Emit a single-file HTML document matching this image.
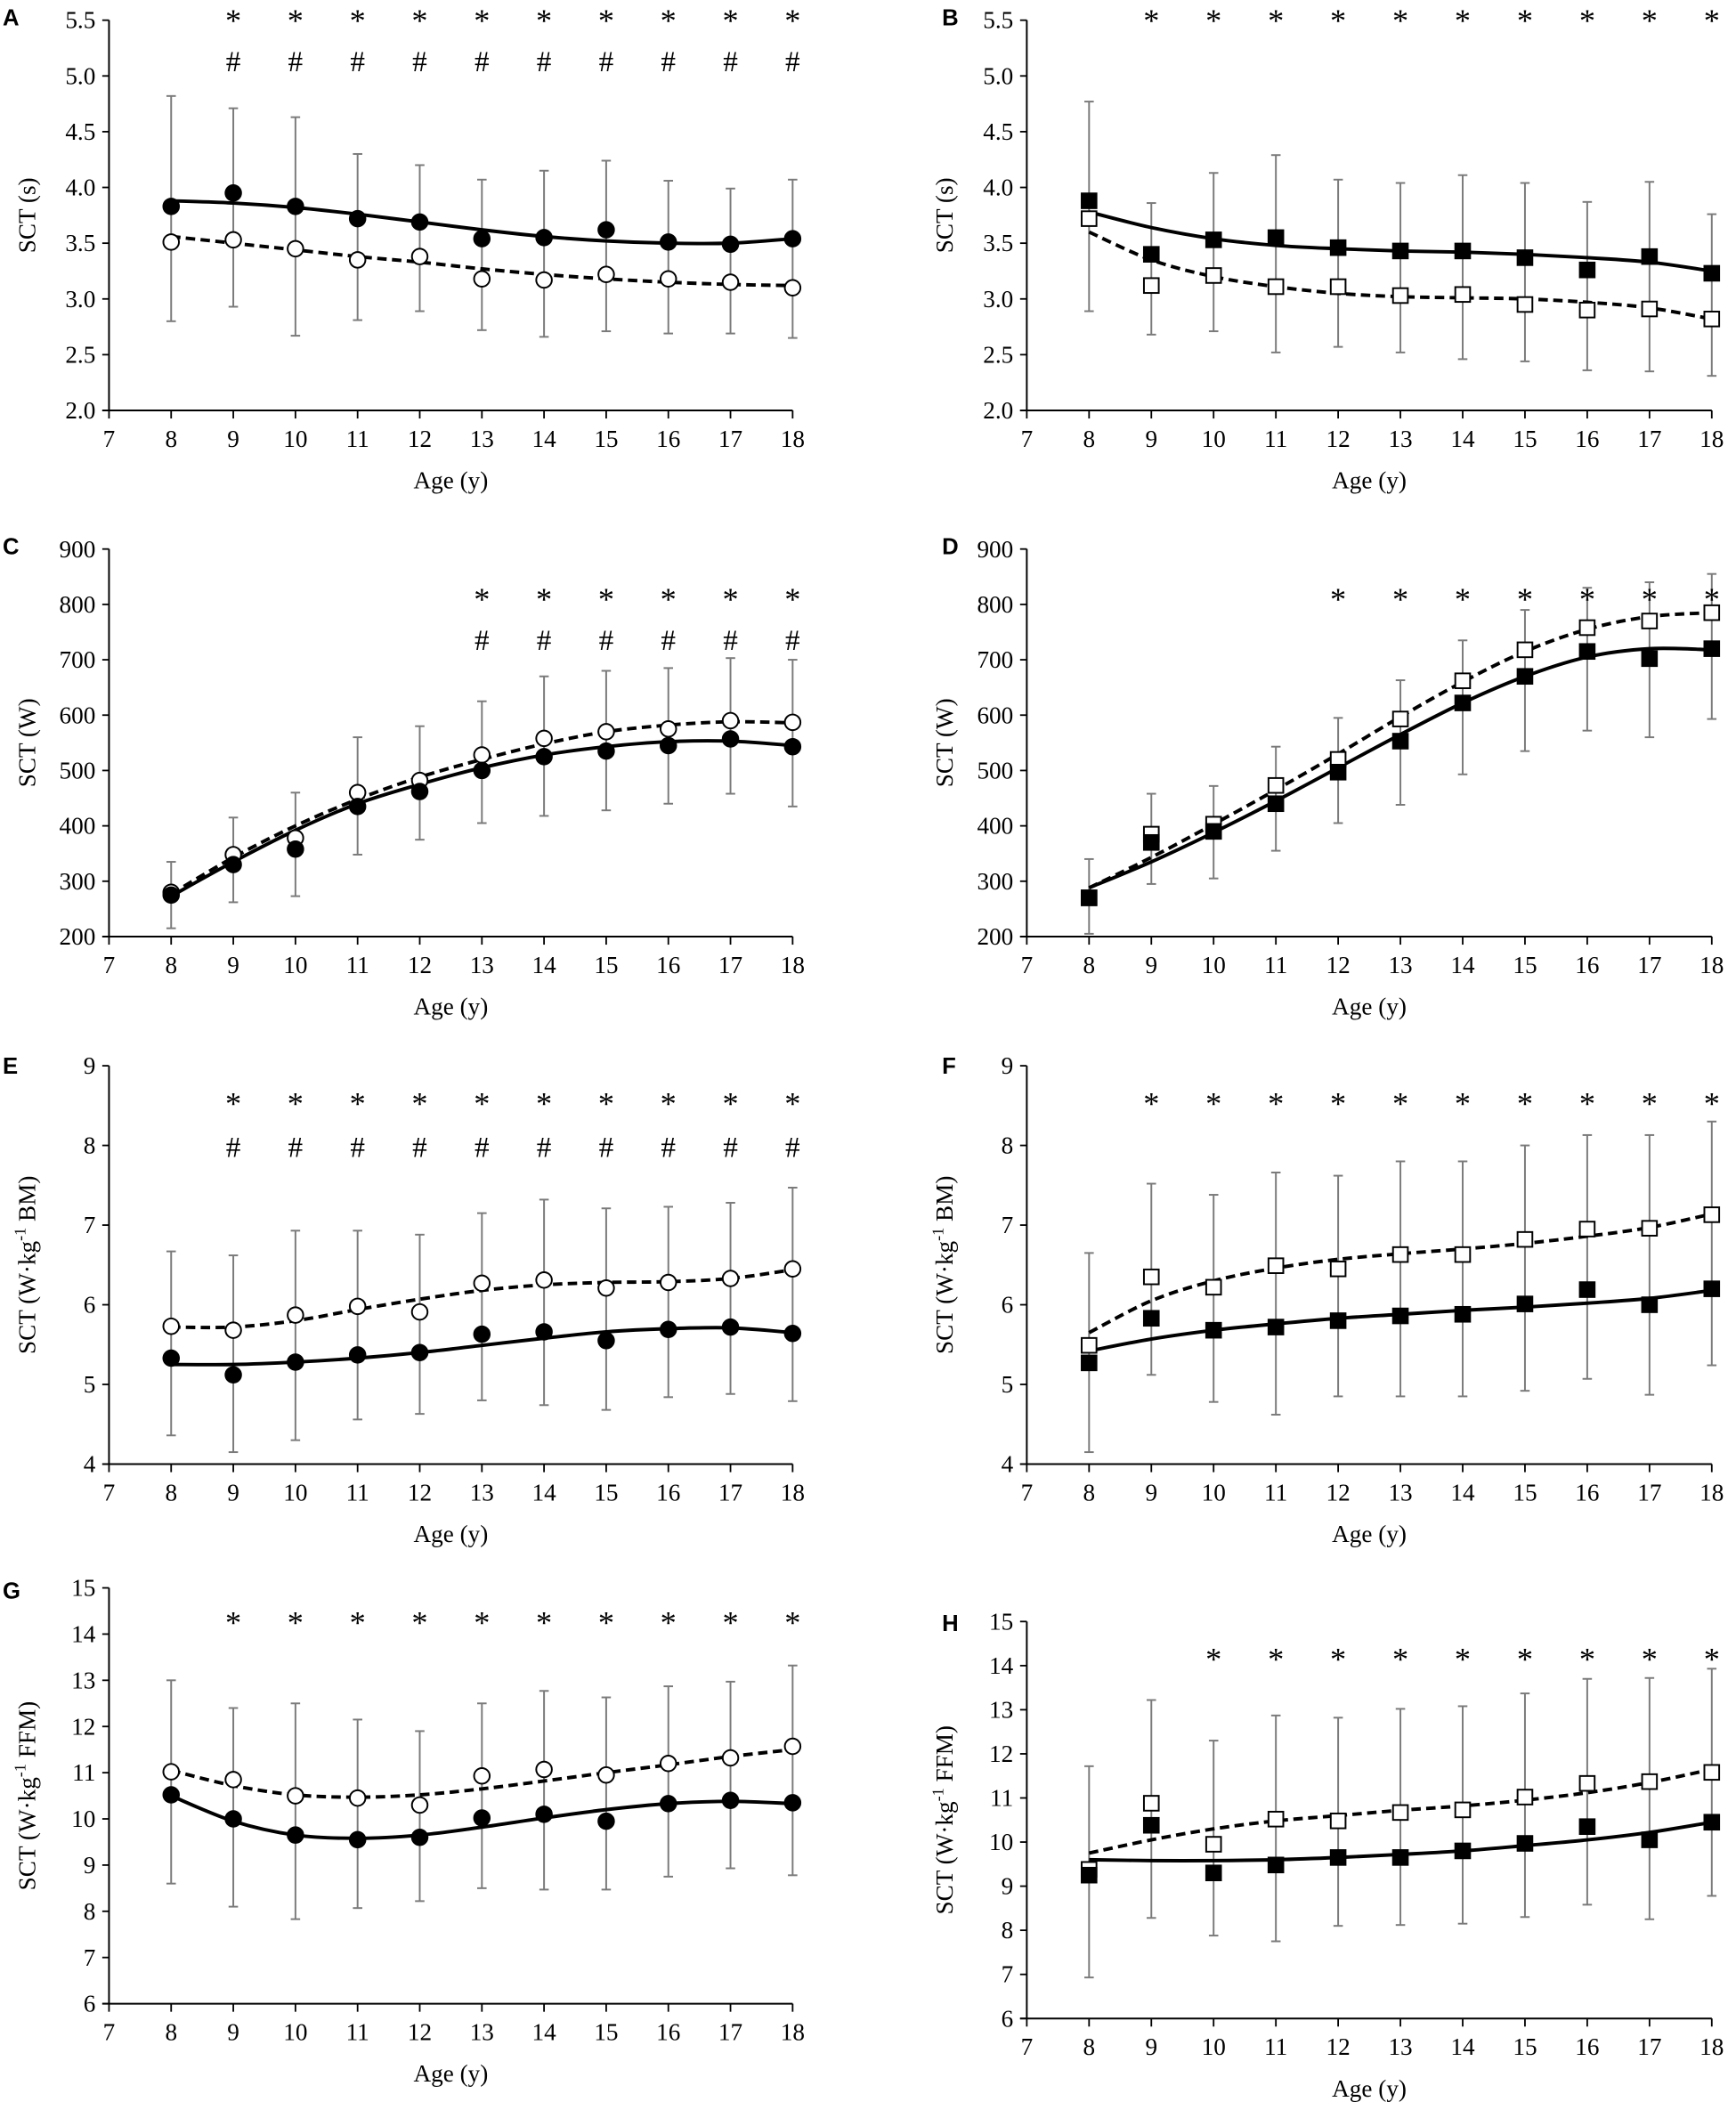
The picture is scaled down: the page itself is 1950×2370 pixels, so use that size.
<!DOCTYPE html>
<html><head><meta charset="utf-8"><style>
html,body{margin:0;padding:0;background:#fff;}
svg{display:block;}
text{font-family:"Liberation Serif",serif;fill:#000;}
.lt{font-family:"Liberation Sans",sans-serif;font-weight:bold;}
</style></head><body>
<svg id="fig" width="1950" height="2370" viewBox="0 0 1290 1568" preserveAspectRatio="none" xmlns="http://www.w3.org/2000/svg"></svg>
<script>
// ages
const ages=[8,9,10,11,12,13,14,15,16,17,18];
// Panel A
const aClosed=[3.83,3.95,3.83,3.72,3.69,3.54,3.55,3.62,3.51,3.49,3.54];
const aOpen=[3.51,3.53,3.45,3.35,3.38,3.18,3.17,3.22,3.18,3.15,3.10];
const aUpper=[4.82,4.71,4.63,4.30,4.20,4.07,4.15,4.24,4.06,3.99,4.07];
const aLower=[2.80,2.93,2.67,2.81,2.89,2.72,2.66,2.71,2.69,2.69,2.65];
const aFitSolid=[3.88,3.86,3.82,3.76,3.69,3.62,3.56,3.52,3.50,3.50,3.54];
const aFitDash=[3.56,3.50,3.44,3.38,3.33,3.27,3.22,3.18,3.15,3.13,3.12];
const aStars=[9,10,11,12,13,14,15,16,17,18];
const aHash=[9,10,11,12,13,14,15,16,17,18];
// Panel B
const bClosed=[3.88,3.40,3.53,3.55,3.46,3.43,3.43,3.37,3.26,3.38,3.23];
const bOpen=[3.72,3.12,3.21,3.11,3.11,3.03,3.04,2.95,2.90,2.91,2.82];
const bUpper=[4.77,3.86,4.13,4.29,4.07,4.04,4.11,4.04,3.87,4.05,3.76];
const bLower=[2.89,2.68,2.71,2.52,2.57,2.52,2.46,2.44,2.36,2.35,2.31];
const bFitSolid=[3.78,3.64,3.54,3.48,3.45,3.43,3.42,3.40,3.37,3.33,3.25];
const bFitDash=[3.60,3.35,3.20,3.11,3.05,3.02,3.01,3.00,2.97,2.92,2.82];
const bStars=[9,10,11,12,13,14,15,16,17,18];
// Panel C
const cClosed=[275,330,358,435,462,500,525,535,545,557,543];
const cOpen=[280,348,378,460,482,528,558,570,575,590,587];
const cUpper=[335,415,460,560,580,625,670,680,685,703,700];
const cLower=[215,262,273,348,375,405,418,428,440,458,435];
const cFitSolid=[273,335,392,440,475,505,528,543,552,553,545];
const cFitDash=[277,343,400,448,488,520,548,570,582,588,586];
const cStars=[13,14,15,16,17,18];
const cHash=[13,14,15,16,17,18];
// Panel D
const dClosed=[270,370,390,440,497,553,622,670,715,702,720];
const dOpen=[270,385,403,473,520,593,662,718,758,770,785];
const dUpper=[340,458,472,543,595,663,735,790,830,840,855];
const dLower=[205,295,305,355,405,438,493,535,572,560,593];
const dFitSolid=[288,335,388,445,505,565,622,670,705,720,718];
const dFitDash=[288,343,403,465,530,597,660,715,755,778,785];
const dStars=[12,13,14,15,16,17,18];
// Panel E
const eClosed=[5.33,5.12,5.28,5.37,5.40,5.63,5.66,5.55,5.69,5.72,5.64];
const eOpen=[5.73,5.68,5.87,5.98,5.91,6.27,6.31,6.21,6.28,6.33,6.45];
const eUpper=[6.67,6.62,6.93,6.93,6.88,7.15,7.32,7.21,7.23,7.28,7.47];
const eLower=[4.36,4.15,4.30,4.56,4.63,4.80,4.74,4.68,4.84,4.88,4.79];
const eFitSolid=[5.25,5.25,5.28,5.33,5.40,5.49,5.58,5.66,5.70,5.71,5.65];
const eFitDash=[5.72,5.72,5.80,5.94,6.07,6.18,6.25,6.28,6.29,6.33,6.44];
const eStars=[9,10,11,12,13,14,15,16,17,18];
const eHash=[9,10,11,12,13,14,15,16,17,18];
// Panel F
const fClosed=[5.27,5.83,5.68,5.72,5.80,5.86,5.88,6.01,6.19,6.00,6.20];
const fOpen=[5.49,6.35,6.22,6.49,6.45,6.63,6.63,6.82,6.95,6.96,7.13];
const fUpper=[6.65,7.52,7.38,7.66,7.62,7.80,7.80,8.00,8.13,8.13,8.30];
const fLower=[4.15,5.12,4.78,4.62,4.85,4.85,4.85,4.92,5.07,4.87,5.24];
const fFitSolid=[5.42,5.57,5.68,5.76,5.83,5.88,5.93,5.97,6.02,6.08,6.18];
const fFitDash=[5.65,6.05,6.30,6.46,6.57,6.64,6.70,6.77,6.86,6.97,7.14];
const fStars=[9,10,11,12,13,14,15,16,17,18];
// Panel G
const gClosed=[10.52,10.00,9.65,9.55,9.60,10.02,10.10,9.95,10.33,10.40,10.35];
const gOpen=[11.02,10.85,10.50,10.45,10.30,10.93,11.07,10.95,11.20,11.32,11.57];
const gUpper=[13.0,12.4,12.5,12.15,11.9,12.5,12.77,12.63,12.87,12.97,13.32];
const gLower=[8.6,8.1,7.83,8.07,8.22,8.5,8.47,8.47,8.75,8.93,8.78];
const gFitSolid=[10.5,9.95,9.65,9.58,9.65,9.82,10.02,10.2,10.33,10.38,10.33];
const gFitDash=[11.05,10.72,10.52,10.47,10.52,10.65,10.82,11.0,11.17,11.35,11.5];
const gStars=[9,10,11,12,13,14,15,16,17,18];
// Panel H
const hClosed=[9.25,10.38,9.30,9.48,9.65,9.65,9.80,9.97,10.35,10.05,10.45];
const hOpen=[9.38,10.88,9.95,10.52,10.48,10.67,10.73,11.02,11.33,11.37,11.58];
const hUpper=[11.72,13.22,12.30,12.87,12.82,13.02,13.08,13.37,13.70,13.72,13.93];
const hLower=[6.93,8.28,7.88,7.75,8.10,8.12,8.15,8.30,8.58,8.25,8.78];
const hFitSolid=[9.6,9.58,9.58,9.6,9.65,9.72,9.8,9.92,10.05,10.22,10.45];
const hFitDash=[9.75,10.05,10.3,10.48,10.6,10.72,10.82,10.95,11.12,11.35,11.65];
const hStars=[10,11,12,13,14,15,16,17,18];
// tick label arrays
const xTicks=[7,8,9,10,11,12,13,14,15,16,17,18];
const yTicksTime=["2.0","2.5","3.0","3.5","4.0","4.5","5.0","5.5"];
const yTicksW=["200","300","400","500","600","700","800","900"];
const yTicksBM=["4","5","6","7","8","9"];
const yTicksFFM=["6","7","8","9","10","11","12","13","14","15"];

const NS="http://www.w3.org/2000/svg";
const svg=document.getElementById('fig');
function mk(tag,attrs,parent){const e=document.createElementNS(NS,tag);for(const k in attrs)e.setAttribute(k,attrs[k]);(parent||svg).appendChild(e);return e;}

function smoothPath(pts){
  let d="M"+pts[0][0]+","+pts[0][1];
  for(let i=0;i<pts.length-1;i++){
    const p0=pts[i-1]||pts[i],p1=pts[i],p2=pts[i+1],p3=pts[i+2]||p2;
    const c1=[p1[0]+(p2[0]-p0[0])/6,p1[1]+(p2[1]-p0[1])/6];
    const c2=[p2[0]-(p3[0]-p1[0])/6,p2[1]-(p3[1]-p1[1])/6];
    d+=" C"+c1[0]+","+c1[1]+" "+c2[0]+","+c2[1]+" "+p2[0]+","+p2[1];
  }
  return d;
}

function panel(c){
  const g=mk('g',{});
  
  
  const X=v=>c.x0+(v-7)*(c.x1-c.x0)/11;
  const Y=v=>c.yB+(v-c.ymin)*(c.yT-c.yB)/(c.ymax-c.ymin);
  const lt=mk('text',{x:c.lx,y:c.ly,'font-size':17,class:'lt'},g);lt.textContent=c.id;
  
  
  // axes
  const ya=mk('line',{x1:c.x0,y1:c.yT,x2:c.x0,y2:c.yB,stroke:'#000','stroke-width':1.3},g);
  
  
  const xa=mk('line',{x1:c.x0-5,y1:c.yB,x2:c.x1,y2:c.yB,stroke:'#000','stroke-width':1.3},g);
  
  
  c.yt.forEach(s=>{
    const v=parseFloat(s),y=Y(v);
    mk('line',{x1:c.x0-5,y1:y,x2:c.x0,y2:y,stroke:'#000','stroke-width':1.2},g);
    const t=mk('text',{x:c.x0-10,y:y+6,'font-size':18,'text-anchor':'end'},g);t.textContent=s;
    
    
  });
  xTicks.forEach(v=>{
    const x=X(v);
    mk('line',{x1:x,y1:c.yB,x2:x,y2:c.yB+6,stroke:'#000','stroke-width':1.2},g);
    const t=mk('text',{x:x,y:c.yB+27,'font-size':18,'text-anchor':'middle'},g);t.textContent=v;
    
    
  });
  const xt=mk('text',{x:(c.x0+c.x1)/2,y:c.yB+58,'font-size':18,'text-anchor':'middle'},g);xt.textContent="Age (y)";
  
  
  const yc=(c.yT+c.yB)/2;
  const yt=mk('text',{x:0,y:0,'font-size':18,'text-anchor':'middle',transform:`translate(${c.ylx},${yc}) rotate(-90)`},g);
  
  
  if(c.unit){
    yt.appendChild(document.createTextNode("SCT (W·kg"));
    const sp=mk('tspan',{'font-size':12,dy:-7},yt);sp.textContent="-1";
    const sp2=mk('tspan',{dy:7},yt);sp2.textContent=" "+c.unit+")";
  } else yt.textContent=c.ytitle;
  // error bars
  ages.forEach((a,i)=>{
    const x=X(a);
    const eb=mk('line',{x1:x,y1:Y(c.up[i]),x2:x,y2:Y(c.lo[i]),stroke:'#7a7a7a','stroke-width':1.3},g);
    
    
    mk('line',{x1:x-3.5,y1:Y(c.up[i]),x2:x+3.5,y2:Y(c.up[i]),stroke:'#7a7a7a','stroke-width':1.3},g);
    mk('line',{x1:x-3.5,y1:Y(c.lo[i]),x2:x+3.5,y2:Y(c.lo[i]),stroke:'#7a7a7a','stroke-width':1.3},g);
  });
  // fits
  const ps=mk('path',{d:smoothPath(ages.map((a,i)=>[X(a),Y(c.fs[i])])),fill:'none',stroke:'#000','stroke-width':2.6},g);
  
  
  const pd=mk('path',{d:smoothPath(ages.map((a,i)=>[X(a),Y(c.fd[i])])),fill:'none',stroke:'#000','stroke-width':2.6,'stroke-dasharray':'7,4'},g);
  
  
  // markers
  function marker(x,y,filled){
    let m;
    if(c.sq) m=mk('rect',{x:x-5.5,y:y-5.5,width:11,height:11,fill:filled?'#000':'#fff',stroke:'#000','stroke-width':1.3},g);
    else m=mk('circle',{cx:x,cy:y,r:5.8,fill:filled?'#000':'#fff',stroke:'#000','stroke-width':1.3},g);
    return m;
  }
  ages.forEach((a,i)=>{
    const m=marker(X(a),Y(c.op[i]),false);
    
    
  });
  ages.forEach((a,i)=>{
    const m=marker(X(a),Y(c.cl[i]),true);
    
    
  });
  c.stars.forEach(a=>{
    const t=mk('text',{x:X(a),y:Y(c.starV)+13,'font-size':24,'text-anchor':'middle'},g);t.textContent="*";
    
    
  });
  (c.hash||[]).forEach(a=>{
    const t=mk('text',{x:X(a),y:Y(c.hashV)+8,'font-size':22,'text-anchor':'middle'},g);t.textContent="#";
    
    
  });
}
const L={x0:81,x1:589,lx:2,ylx:26};
const R={x0:763,x1:1272,lx:700,ylx:708};
panel({id:'A',...L,ly:19,yT:15,yB:305,ymin:2,ymax:5.5,yt:yTicksTime,ytitle:'SCT (s)',cl:aClosed,op:aOpen,up:aUpper,lo:aLower,fs:aFitSolid,fd:aFitDash,stars:aStars,hash:aHash,starV:5.56,hashV:5.14});
panel({id:'B',...R,ly:19,yT:15,yB:305,ymin:2,ymax:5.5,yt:yTicksTime,ytitle:'SCT (s)',sq:true,cl:bClosed,op:bOpen,up:bUpper,lo:bLower,fs:bFitSolid,fd:bFitDash,stars:bStars,starV:5.56});
panel({id:'C',...L,ly:412,yT:408,yB:696,ymin:200,ymax:900,yt:yTicksW,ytitle:'SCT (W)',cl:cClosed,op:cOpen,up:cUpper,lo:cLower,fs:cFitSolid,fd:cFitDash,stars:cStars,hash:cHash,starV:822,hashV:737});
panel({id:'D',...R,ly:412,yT:408,yB:696,ymin:200,ymax:900,yt:yTicksW,ytitle:'SCT (W)',sq:true,cl:dClosed,op:dOpen,up:dUpper,lo:dLower,fs:dFitSolid,fd:dFitDash,stars:dStars,starV:822});
panel({id:'E',...L,ly:798,yT:792,yB:1088,ymin:4,ymax:9,yt:yTicksBM,unit:'BM',cl:eClosed,op:eOpen,up:eUpper,lo:eLower,fs:eFitSolid,fd:eFitDash,stars:eStars,hash:eHash,starV:8.61,hashV:7.99});
panel({id:'F',...R,ly:798,yT:792,yB:1088,ymin:4,ymax:9,yt:yTicksBM,unit:'BM',sq:true,cl:fClosed,op:fOpen,up:fUpper,lo:fLower,fs:fFitSolid,fd:fFitDash,stars:fStars,starV:8.61});
panel({id:'G',...L,ly:1188,yT:1180,yB:1489,ymin:6,ymax:15,yt:yTicksFFM,unit:'FFM',cl:gClosed,op:gOpen,up:gUpper,lo:gLower,fs:gFitSolid,fd:gFitDash,stars:gStars,starV:14.4});
panel({id:'H',...R,ly:1212,yT:1205,yB:1500,ymin:6,ymax:15,yt:yTicksFFM,unit:'FFM',sq:true,cl:hClosed,op:hOpen,up:hUpper,lo:hLower,fs:hFitSolid,fd:hFitDash,stars:hStars,starV:14.3});
</script>
</body></html>
